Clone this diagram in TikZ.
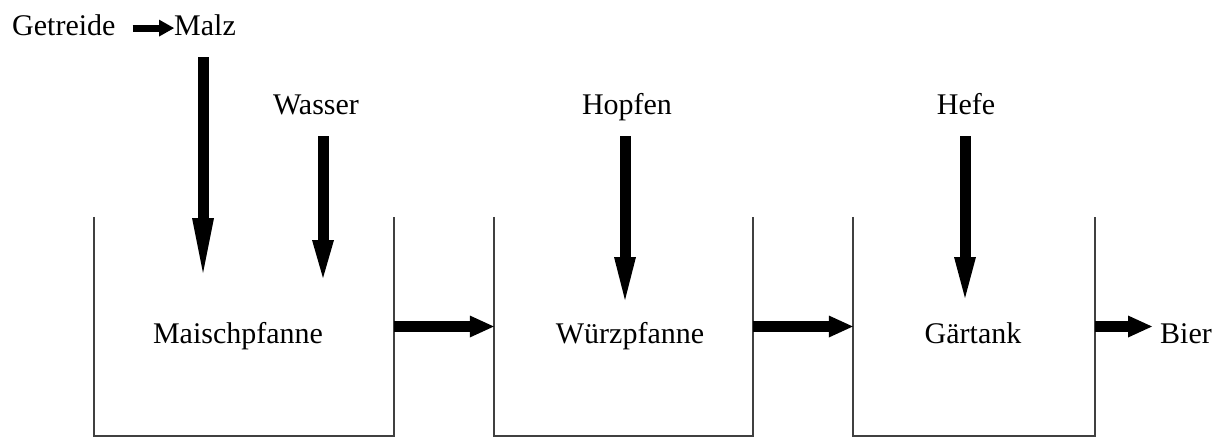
\documentclass[tikz,border=0pt]{standalone}
\usepackage{fontspec}
\setmainfont{Liberation Serif}
\usetikzlibrary{arrows.meta}
\begin{document}
\begin{tikzpicture}[x=1pt,y=-1pt,
  lbl/.style={inner sep=0pt,text depth=7pt,font=\fontsize{30}{36}\selectfont},
  vessel/.style={draw=none,inner sep=0pt},
  wall/.style={draw=black!75,line width=2pt},
  flow/.style={line width=11pt,-{Triangle[length=#1,width=22pt,line width=0pt]}},
  flow/.default=24pt,
  smallflow/.style={line width=7pt,-{Triangle[length=15pt,width=17pt,line width=0pt]}}]
\useasboundingbox (0,0) rectangle (1228,437);

% vessels (open at the top)
\node[vessel,minimum width=300pt,minimum height=219pt] (maisch) at (244,326.5) {};
\node[vessel,minimum width=259pt,minimum height=219pt] (wuerz) at (623.5,326.5) {};
\node[vessel,minimum width=242pt,minimum height=219pt] (gaer) at (974,326.5) {};
\foreach \v in {maisch,wuerz,gaer}
  \draw[wall] (\v.north west) |- (\v.south east) -- (\v.north east);

% vessel names
\node[lbl,anchor=base] (tmaisch) at (238,343) {Maischpfanne};
\node[lbl,anchor=base] (twuerz) at (630,343) {Würzpfanne};
\node[lbl,anchor=base] (tgaer) at (973,343) {Gärtank};

% inputs and output
\node[lbl,anchor=base west] (getreide) at (12,35) {Getreide};
\node[lbl,anchor=base west] (malz) at (174,35) {Malz};
\node[lbl,anchor=base] (wasser) at (316,114) {Wasser};
\node[lbl,anchor=base] (hopfen) at (627,114) {Hopfen};
\node[lbl,anchor=base] (hefe) at (966,114) {Hefe};
\node[lbl,anchor=base west] (bier) at (1160,343) {Bier};

% arrow tips inside the vessels
\coordinate (malzin) at (203,273);
\coordinate (wasserin) at (323,278);
\coordinate (hopfenin) at (625,300);
\coordinate (hefein) at (965,298);

% connectors
\draw[smallflow,shorten <=17pt] (getreide.east) -- (malz.west);
\draw[flow=55pt,shorten <=15pt] (malz.south -| malzin) -- (malzin);
\draw[flow=38pt,shorten <=15pt] (wasser.south -| wasserin) -- (wasserin);
\draw[flow=43pt,shorten <=15pt] (hopfen.south -| hopfenin) -- (hopfenin);
\draw[flow=41pt,shorten <=15pt] (hefe.south -| hefein) -- (hefein);
\draw[flow] (maisch.east) -- (wuerz.west);
\draw[flow] (wuerz.east) -- (gaer.west);
\draw[flow,shorten >=8pt] (gaer.east) -- (gaer.east -| bier.west);
\end{tikzpicture}
\end{document}
